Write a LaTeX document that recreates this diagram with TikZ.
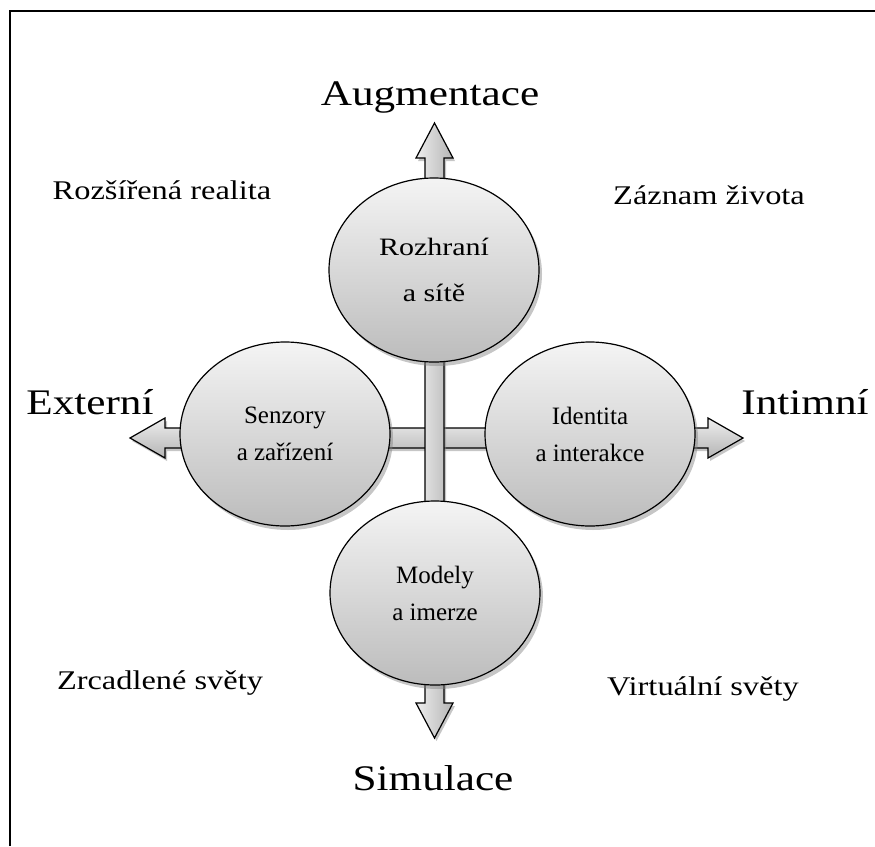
\documentclass[tikz,border=0pt]{standalone}
\usepackage{fontspec}
\setmainfont{Liberation Serif}
\newfontfamily\widefont{Liberation Serif}[FakeStretch=1.2]
\usetikzlibrary{shapes.geometric,shadows}
\definecolor{circletop}{RGB}{244,244,244}
\definecolor{circlebottom}{RGB}{188,188,188}
\definecolor{arrowlight}{RGB}{238,238,238}
\definecolor{arrowdark}{RGB}{180,180,180}
\tikzset{
  circlebox/.style={ellipse, draw=black, line width=1.2pt, top color=circletop, bottom color=circlebottom,
    minimum width=210pt, minimum height=184pt, align=center, inner sep=0pt,
    drop shadow={shadow xshift=3pt, shadow yshift=-4pt, opacity=0.45}},
  circletext/.style={font=\fontsize{25}{37}\selectfont},
  axislabel/.style={font=\widefont\fontsize{36}{40}\selectfont},
  cornerlabel/.style={font=\widefont\fontsize{27}{30}\selectfont},
  blockarrow/.style={draw=black, line width=1.2pt, line join=miter,
    drop shadow={shadow xshift=2pt, shadow yshift=-3pt, opacity=0.45}}
}
\begin{document}
\begin{tikzpicture}[x=1pt, y=-1pt]
    \useasboundingbox (0,0) rectangle (875,846);

    % Frame
    \draw[line width=2pt] (10,846) -- (10,11) -- (875,11);

    % Horizontal axis (Externi - Intimni)
    \path[blockarrow, top color=arrowlight, bottom color=arrowdark]
        (130,438) -- (165,418) -- (165,428) -- (708,428) -- (708,418) -- (743,438)
        -- (708,458) -- (708,448) -- (165,448) -- (165,458) -- cycle;

    % Vertical axis (Augmentace - Simulace)
    \path[blockarrow, left color=arrowlight, right color=arrowdark]
        (434.5,123) -- (453,158) -- (444,158) -- (444,703) -- (453,703) -- (434.5,738)
        -- (416,703) -- (425,703) -- (425,158) -- (416,158) -- cycle;

    % Circles
    \node[circlebox, font=\widefont\fontsize{25}{30}\selectfont] (rozhrani) at (434,270) {Rozhraní\\[16pt] a sítě};
    \node[circlebox, circletext] (senzory) at (285,434) {Senzory\\ a zařízení};
    \node[circlebox, circletext] (identita) at (590,434) {Identita\\ a interakce};
    \node[circlebox, circletext] (modely) at (435,593) {Modely\\ a imerze};

    % Axis labels
    \node[axislabel] (augmentace) at (430,97) {Augmentace};
    \node[axislabel] (simulace) at (433,778) {Simulace};
    \node[axislabel] (externi) at (90,402) {Externí};
    \node[axislabel] (intimni) at (805,402) {Intimní};

    % Quadrant labels
    \node[cornerlabel] (rozsirena) at (162,190) {Rozšířená realita};
    \node[cornerlabel] (zaznam) at (709,195) {Záznam života};
    \node[cornerlabel] (zrcadlene) at (160,683) {Zrcadlené světy};
    \node[cornerlabel] (virtualni) at (703,689) {Virtuální světy};
\end{tikzpicture}
\end{document}
